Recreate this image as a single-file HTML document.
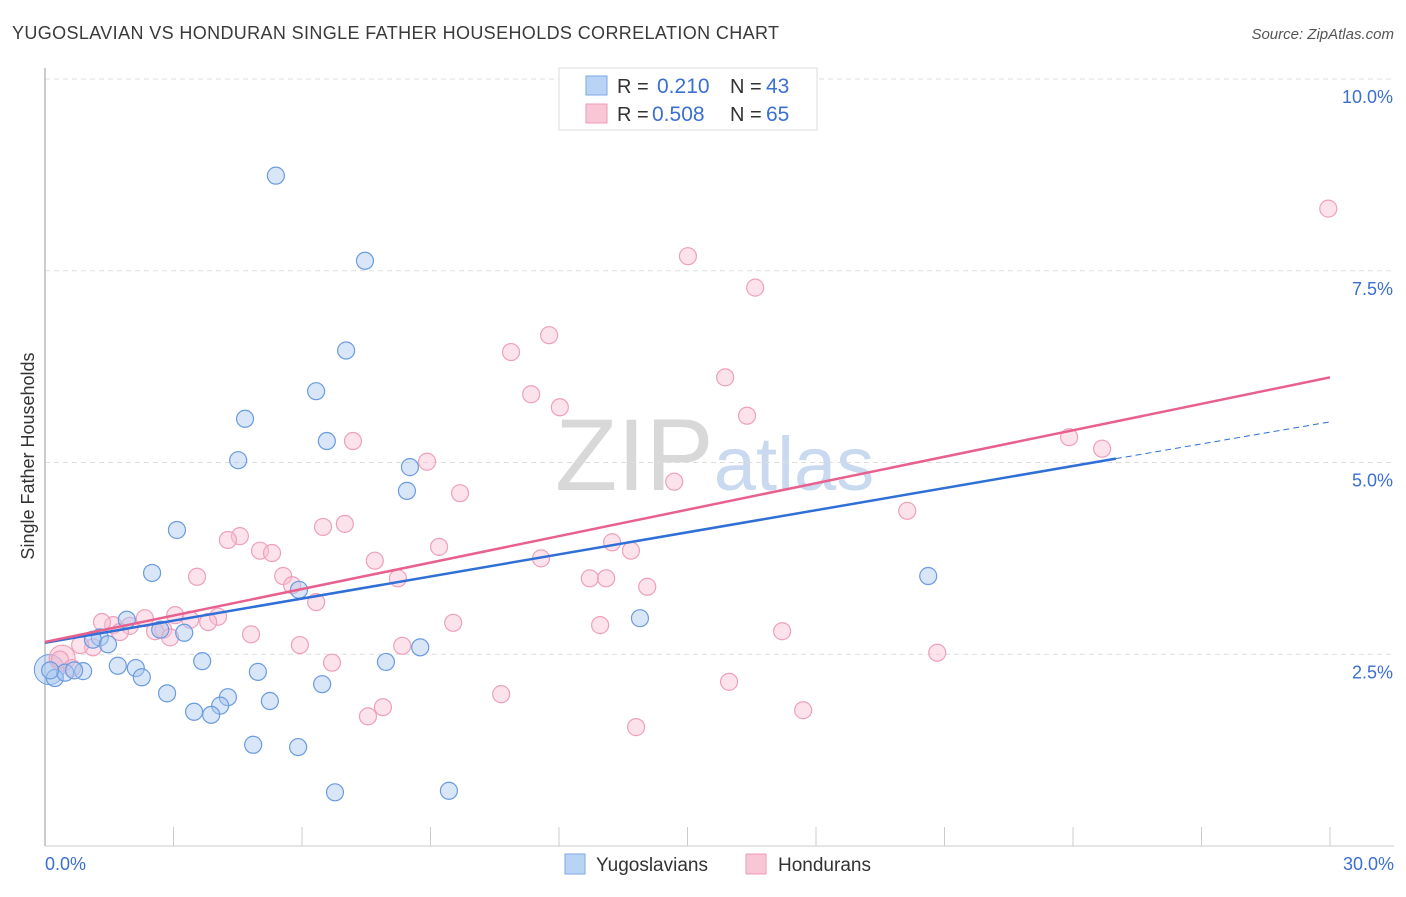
<!DOCTYPE html>
<html><head><meta charset="utf-8"><style>
body{margin:0;background:#fff;font-family:"Liberation Sans",sans-serif;}
svg text{font-family:"Liberation Sans",sans-serif;}
</style></head><body>
<svg id="chart" width="1406" height="892" xmlns="http://www.w3.org/2000/svg">
<text x="12" y="39" font-size="18" fill="#3a3a3a" textLength="767">YUGOSLAVIAN VS HONDURAN SINGLE FATHER HOUSEHOLDS CORRELATION CHART</text>
<text x="1394" y="39" font-size="15" fill="#555" text-anchor="end" font-style="italic">Source: ZipAtlas.com</text>
<text transform="translate(34,456) rotate(-90)" font-size="18" fill="#333" text-anchor="middle">Single Father Households</text>
<text x="555" y="490" font-size="102" fill="#d8d8d8" font-family="Liberation Serif"><tspan>ZIP</tspan><tspan fill="#c9d9ef" font-family="Liberation Sans" font-size="76">atlas</tspan></text>
<g id="grid"></g><g id="axes"></g><g id="pts"></g><g id="lines"></g>
<g>
<rect x="559" y="68" width="258" height="62" fill="#fff" stroke="#ddd"/>
<rect x="586" y="76" width="21" height="19" fill="#b9d3f5" stroke="#7aa8e6"/>
<rect x="586" y="104" width="21" height="19" fill="#f9c6d6" stroke="#ee9ab5"/>
<text x="617" y="93" font-size="20" fill="#333">R = </text><text x="657" y="93" font-size="21" fill="#3b70d0">0.210</text>
<text x="730" y="93" font-size="20" fill="#333">N = </text><text x="766" y="93" font-size="21" fill="#3b70d0">43</text>
<text x="617" y="121" font-size="20" fill="#333">R = </text><text x="652" y="121" font-size="21" fill="#3b70d0">0.508</text>
<text x="730" y="121" font-size="20" fill="#333">N = </text><text x="766" y="121" font-size="21" fill="#3b70d0">65</text>
</g>
<g>
<rect x="565" y="854" width="20" height="20" fill="#b9d3f5" stroke="#7aa8e6"/>
<text x="596" y="871" font-size="19" fill="#333">Yugoslavians</text>
<rect x="746" y="854" width="20" height="20" fill="#f9c6d6" stroke="#ee9ab5"/>
<text x="778" y="871" font-size="19" fill="#333">Hondurans</text>
</g>
</svg>
<script>
const yTicks=[2.5,5.0,7.5,10.0];
const xTickLabels=["0.0%","30.0%"];
const blueX=[5.39,7.47,7.03,6.33,4.67,6.58,4.51,8.52,8.45,3.08,2.50,20.62,5.93,1.91,13.89,2.69,3.25,1.28,1.12,1.47,8.76,3.67,1.70,2.12,7.96,4.97,0.89,2.26,6.47,0.23,0.47,0.12,2.85,4.27,5.25,4.09,3.48,3.88,4.86,5.91,6.77,9.43,0.68];
const blueY=[8.74,7.63,6.46,5.93,5.57,5.28,5.03,4.94,4.63,4.12,3.56,3.52,3.34,2.95,2.97,2.82,2.78,2.72,2.69,2.63,2.59,2.41,2.35,2.32,2.40,2.27,2.28,2.20,2.11,2.19,2.26,2.29,1.99,1.94,1.89,1.83,1.75,1.71,1.32,1.29,0.70,0.72,2.29];
const pinkX=[29.96,15.01,16.58,11.77,10.88,11.35,12.02,15.88,16.39,23.91,24.68,7.19,8.92,9.69,14.69,20.13,7.00,6.49,4.55,4.27,5.02,5.30,7.70,11.58,13.24,13.68,9.20,3.55,5.56,5.77,8.24,12.72,13.10,14.06,6.33,3.04,4.04,2.33,1.98,1.59,1.33,2.76,2.57,2.92,3.81,3.39,4.81,9.53,12.96,17.21,1.12,0.82,5.95,8.34,20.83,6.70,0.35,0.63,10.65,15.97,7.89,7.54,17.70,13.80,1.75];
const pinkY=[8.31,7.69,7.28,6.66,6.44,5.89,5.72,6.11,5.61,5.33,5.18,5.28,5.01,4.60,4.75,4.37,4.20,4.16,4.04,3.99,3.85,3.82,3.72,3.75,3.96,3.85,3.90,3.51,3.52,3.40,3.49,3.49,3.49,3.38,3.18,3.01,2.99,2.97,2.87,2.88,2.92,2.82,2.80,2.72,2.92,2.95,2.76,2.91,2.88,2.80,2.59,2.62,2.62,2.61,2.52,2.39,2.43,2.32,1.98,2.14,1.81,1.69,1.77,1.55,2.79];
const blueTrend=[2.65,5.05]; // value at x=0 and x=25
const pinkTrend=[2.66,6.11]; // value at x=0 and x=30
const X=v=>45+v*(1285/30), Y=v=>846-v*76.7;
const NS="http://www.w3.org/2000/svg";
function mk(tag,attrs,parent){const e=document.createElementNS(NS,tag);for(const k in attrs)e.setAttribute(k,attrs[k]);parent.appendChild(e);return e;}
const grid=document.getElementById('grid'),axes=document.getElementById('axes'),pts=document.getElementById('pts'),lines=document.getElementById('lines');
yTicks.forEach(t=>{const l=mk('line',{x1:45,x2:1394,y1:Y(t),y2:Y(t),stroke:'#ddd','stroke-dasharray':'5,4'},grid);


const tx=mk('text',{x:1393,y:Y(t)+24,'font-size':18,fill:'#3b70d0','text-anchor':'end'},grid);tx.textContent=t.toFixed(1)+'%';

});
const ax=mk('line',{x1:45,x2:45,y1:68,y2:846,stroke:'#bbb','stroke-width':1.5},axes);


const bx=mk('line',{x1:45,x2:1394,y1:846,y2:846,stroke:'#ccc'},axes);


for(let i=1;i<=10;i++){const tk=mk('line',{x1:X(i*3),x2:X(i*3),y1:827,y2:846,stroke:'#ccc'},axes);

}
[[0,'start',45],[30,'end',1394]].forEach((d,i)=>{const t=mk('text',{x:d[2],y:870,'font-size':18,fill:'#3b70d0','text-anchor':d[1]},axes);t.textContent=xTickLabels[i];

});
const big1=mk('circle',{cx:X(0.1),cy:Y(2.3),r:15,fill:'rgba(150,185,235,0.4)',stroke:'#6a9be0'},pts);


const big2=mk('circle',{cx:X(0.4),cy:Y(2.45),r:13,fill:'rgba(245,170,195,0.4)',stroke:'#ee9ab5'},pts);


pinkX.forEach((x,i)=>{const c=mk('circle',{cx:X(x),cy:Y(pinkY[i]),r:8.5,fill:'rgba(248,190,210,0.45)',stroke:'#eea0ba','stroke-width':1.2},pts);

});
blueX.forEach((x,i)=>{const c=mk('circle',{cx:X(x),cy:Y(blueY[i]),r:8.5,fill:'rgba(170,200,240,0.45)',stroke:'#6a9be0','stroke-width':1.2},pts);

});
const bs=(blueTrend[1]-blueTrend[0])/25;
const l1=mk('line',{x1:X(0),y1:Y(blueTrend[0]),x2:X(25),y2:Y(blueTrend[1]),stroke:'#2f6fd6','stroke-width':2.5},lines);


const l2=mk('line',{x1:X(25),y1:Y(blueTrend[1]),x2:X(30),y2:Y(blueTrend[0]+bs*30),stroke:'#2f6fd6','stroke-width':1,'stroke-dasharray':'6,4'},lines);


const l3=mk('line',{x1:X(0),y1:Y(pinkTrend[0]),x2:X(30),y2:Y(pinkTrend[1]),stroke:'#e8608e','stroke-width':2.5},lines);


</script>
</body></html>
